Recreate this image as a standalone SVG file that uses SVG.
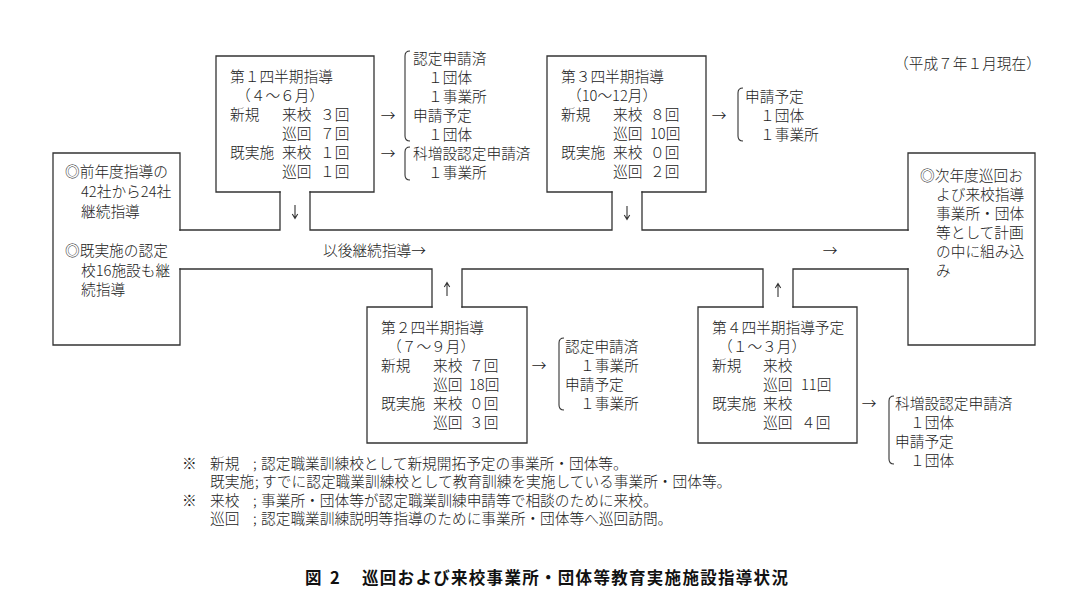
<svg xmlns="http://www.w3.org/2000/svg" width="1091" height="612" viewBox="0 0 1091 612">
<style>
.ln{fill:none;stroke:#333;stroke-width:1.3;stroke-linecap:square;stroke-linejoin:miter}
.br{fill:none;stroke:#333;stroke-width:1.1}
.ar{fill:none;stroke:#333;stroke-width:1.1}
.t{font-family:"Noto Sans CJK JP","Noto Sans CJK SC",sans-serif;font-size:14.7px;fill:#222;font-weight:300}
.m{text-anchor:middle}
.ttl{font-family:"Noto Sans CJK JP","Noto Sans CJK SC",sans-serif;font-size:16.5px;font-weight:700;fill:#111}
</style>
<rect width="1091" height="612" fill="#fff"/>
<g id="connectors">
<path class="ln" d="M180,230 L280,230 L280,192 M310,192 L310,230 L612,230 L612,192 M642,192 L642,230 L908,230"/>
<path class="ln" d="M180,269 L432,269 L432,307 M462,307 L462,269 L763,269 L763,307 M793,307 L793,269 L908,269"/>
<path class="ar" d="M295,205 L295,218.5 M292.3,214 L295,218.5 L297.7,214"/>
<path class="ar" d="M627,206 L627,219.5 M624.3,215 L627,219.5 L629.7,215"/>
<path class="ar" d="M447,282.5 L447,296 M444.3,287 L447,282.5 L449.7,287"/>
<path class="ar" d="M778,283.5 L778,297 M775.3,288 L778,283.5 L780.7,288"/>
<text class="t" x="323" y="255.5">以後継続指導→</text>
<text class="t m" x="830" y="255.5">→</text>
<text class="t m" x="388" y="120.5">→</text>
<text class="t m" x="388" y="158.5">→</text>
<text class="t m" x="719" y="120.5">→</text>
<text class="t m" x="539" y="371">→</text>
<text class="t m" x="869" y="409">→</text>
</g>
<g id="prev">
<path class="ln" d="M180,230 L180,153 L53,153 L53,345 L180,345 L180,269"/>
<text class="t" x="65" y="177">◎前年度指導の</text>
<text class="t" x="81" y="197">42社から24社</text>
<text class="t" x="81" y="216.5">継続指導</text>
<text class="t" x="65" y="256">◎既実施の認定</text>
<text class="t" x="81" y="275.5">校16施設も継</text>
<text class="t" x="81" y="295">続指導</text>
</g>
<g id="q1">
<path class="ln" d="M280,192 L216,192 L216,56 L374,56 L374,192 L310,192"/>
<text class="t" x="230" y="82">第１四半期指導</text>
<text class="t" x="236" y="101">（４～６月）</text>
<text class="t" x="230" y="120">新規<tspan x="282">来校</tspan><tspan x="320">３回</tspan></text>
<text class="t" x="282" y="139">巡回<tspan x="320">７回</tspan></text>
<text class="t" x="230" y="158">既実施<tspan x="282">来校</tspan><tspan x="320">１回</tspan></text>
<text class="t" x="282" y="177">巡回<tspan x="320">１回</tspan></text>
</g>
<g id="q1-result">
<path class="br" d="M410,51 Q405,51 405,56 L405,136 Q405,141 410,141"/>
<text class="t" x="413" y="63.5">認定申請済</text>
<text class="t" x="428" y="82.5">１団体</text>
<text class="t" x="428" y="101.5">１事業所</text>
<text class="t" x="413" y="120.5">申請予定</text>
<text class="t" x="428" y="139.5">１団体</text>
<path class="br" d="M410,147 Q405,147 405,152 L405,175 Q405,180 410,180"/>
<text class="t" x="413" y="158.5">科増設認定申請済</text>
<text class="t" x="428" y="177.5">１事業所</text>
</g>
<g id="q3">
<path class="ln" d="M612,192 L547,192 L547,56 L706,56 L706,192 L642,192"/>
<text class="t" x="561" y="82">第３四半期指導</text>
<text class="t" x="567" y="101">（10～12月）</text>
<text class="t" x="561" y="120">新規<tspan x="613">来校</tspan><tspan x="650">８回</tspan></text>
<text class="t" x="613" y="139">巡回<tspan x="650">10回</tspan></text>
<text class="t" x="561" y="158">既実施<tspan x="613">来校</tspan><tspan x="650">０回</tspan></text>
<text class="t" x="613" y="177">巡回<tspan x="650">２回</tspan></text>
</g>
<g id="q3-result">
<path class="br" d="M743,88 Q738,88 738,93 L738,136 Q738,141 743,141"/>
<text class="t" x="745" y="101.5">申請予定</text>
<text class="t" x="760" y="120.5">１団体</text>
<text class="t" x="760" y="139.5">１事業所</text>
</g>
<g id="next">
<path class="ln" d="M908,230 L908,153 L1035,153 L1035,345 L908,345 L908,269"/>
<text class="t" x="920" y="180.5">◎次年度巡回お</text>
<text class="t" x="936" y="199.5">よび来校指導</text>
<text class="t" x="936" y="218.5">事業所・団体</text>
<text class="t" x="936" y="237.5">等として計画</text>
<text class="t" x="936" y="256.5">の中に組み込</text>
<text class="t" x="936" y="275.5">み</text>
</g>
<g id="q2">
<path class="ln" d="M432,307 L367,307 L367,443 L527,443 L527,307 L462,307"/>
<text class="t" x="381" y="333">第２四半期指導</text>
<text class="t" x="387" y="352">（７～９月）</text>
<text class="t" x="381" y="371">新規<tspan x="433">来校</tspan><tspan x="469">７回</tspan></text>
<text class="t" x="433" y="390">巡回<tspan x="469">18回</tspan></text>
<text class="t" x="381" y="409">既実施<tspan x="433">来校</tspan><tspan x="469">０回</tspan></text>
<text class="t" x="433" y="428">巡回<tspan x="469">３回</tspan></text>
</g>
<g id="q2-result">
<path class="br" d="M564,338 Q559,338 559,343 L559,405 Q559,410 564,410"/>
<text class="t" x="565" y="352">認定申請済</text>
<text class="t" x="580" y="371">１事業所</text>
<text class="t" x="565" y="390">申請予定</text>
<text class="t" x="580" y="409">１事業所</text>
</g>
<g id="q4">
<path class="ln" d="M763,307 L698,307 L698,443 L857,443 L857,307 L793,307"/>
<text class="t" x="712" y="333">第４四半期指導予定</text>
<text class="t" x="718" y="352">（１～３月）</text>
<text class="t" x="712" y="371">新規<tspan x="763">来校</tspan></text>
<text class="t" x="763" y="390">巡回<tspan x="801">11回</tspan></text>
<text class="t" x="712" y="409">既実施<tspan x="763">来校</tspan></text>
<text class="t" x="763" y="428">巡回<tspan x="801">４回</tspan></text>
</g>
<g id="q4-result">
<path class="br" d="M894,396 Q889,396 889,401 L889,459 Q889,464 894,464"/>
<text class="t" x="895" y="409">科増設認定申請済</text>
<text class="t" x="910" y="428">１団体</text>
<text class="t" x="895" y="447">申請予定</text>
<text class="t" x="910" y="466">１団体</text>
</g>
<g id="date">
<text class="t" x="894" y="68.5">（平成７年１月現在）</text>
</g>
<g id="notes">
<text class="t" x="182" y="469">※<tspan x="210">新規</tspan><tspan x="253">;</tspan><tspan x="261">認定職業訓練校として新規開拓予定の事業所・団体等。</tspan></text>
<text class="t" x="210" y="487">既実施<tspan x="255">;</tspan><tspan x="262">すでに認定職業訓練校として教育訓練を実施している事業所・団体等。</tspan></text>
<text class="t" x="182" y="505.5">※<tspan x="210">来校</tspan><tspan x="253">;</tspan><tspan x="261">事業所・団体等が認定職業訓練申請等で相談のために来校。</tspan></text>
<text class="t" x="210" y="524">巡回<tspan x="253">;</tspan><tspan x="261">認定職業訓練説明等指導のために事業所・団体等へ巡回訪問。</tspan></text>
</g>
<g id="title">
<text class="ttl" x="305" y="584">図<tspan x="330">2</tspan><tspan x="362" letter-spacing="1.3">巡回および来校事業所・団体等教育実施施設指導状況</tspan></text>
</g>
</svg>
